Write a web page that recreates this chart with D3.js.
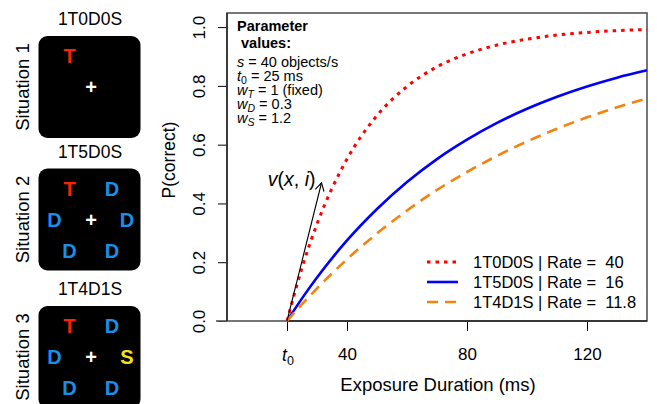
<!DOCTYPE html>
<html>
<head>
<meta charset="utf-8">
<script src="https://cdn.jsdelivr.net/npm/d3@7"></script>
<style>
  body { margin: 0; background: #fff; }
  text { font-family: "Liberation Sans", Arial, sans-serif; white-space: pre; }
</style>
</head>
<body>
<div id="container"></div>
<script>
// left panels
const situations = ['Situation 1', 'Situation 2', 'Situation 3'];
const codes = ['1T0D0S', '1T5D0S', '1T4D1S'];
// each display: letter + slot in the search array
const displays = [
  [{ ch: 'T', slot: 'TL' }, { ch: '+', slot: 'C' }],
  [{ ch: 'T', slot: 'TL' }, { ch: 'D', slot: 'TR' }, { ch: 'D', slot: 'ML' }, { ch: '+', slot: 'C' },
   { ch: 'D', slot: 'MR' }, { ch: 'D', slot: 'BL' }, { ch: 'D', slot: 'BR' }],
  [{ ch: 'T', slot: 'TL' }, { ch: 'D', slot: 'TR' }, { ch: 'D', slot: 'ML' }, { ch: '+', slot: 'C' },
   { ch: 'S', slot: 'MR' }, { ch: 'D', slot: 'BL' }, { ch: 'D', slot: 'BR' }]
];

// curves: P(correct) vs exposure duration (ms)
const durations = [20, 25, 30, 40, 50, 60, 70, 80, 90, 100, 110, 120, 130, 140];
const pRed =    [0, 0.181, 0.330, 0.551, 0.699, 0.798, 0.865, 0.909, 0.939, 0.959, 0.973, 0.982, 0.988, 0.992];
const pBlue =   [0, 0.077, 0.148, 0.274, 0.381, 0.473, 0.551, 0.617, 0.674, 0.722, 0.763, 0.798, 0.828, 0.853];
const pOrange = [0, 0.057, 0.111, 0.210, 0.298, 0.376, 0.446, 0.507, 0.562, 0.611, 0.654, 0.693, 0.727, 0.757];
const legendLabels = ['1T0D0S | Rate =  40', '1T5D0S | Rate =  16', '1T4D1S | Rate =  11.8'];
const xTicks = [20, 40, 80, 120];
const yTicks = [0, 0.2, 0.4, 0.6, 0.8, 1.0];
const arrowPts = [[20, 0], [31.5, 0.47]];
const t0 = 20;

const width = 657, height = 404;
const svg = d3.select('#container').append('svg')
  .attr('width', width).attr('height', height);

// ---- left panels ----
const slotPos = {
  TL: [31, 20], TR: [73.5, 20], ML: [16, 51], C: [52.5, 51],
  MR: [88.5, 51], BL: [31, 82], BR: [73.5, 82]
};
const letterColor = { T: '#ff2200', D: '#1a8fe8', S: '#f2e21a', '+': '#ffffff' };
const panelTop = [36, 168.5, 306];
const panelX = 38.5, panelSize = 102;

situations.forEach((s, i) => {
  const g = svg.append('g');
  g.append('text')
    .attr('x', 90).attr('y', panelTop[i] - 11)
    .attr('text-anchor', 'middle')
    .attr('font-size', 17.5)
    .text(codes[i]);

  g.append('text')
    .attr('transform', `translate(28.5,${panelTop[i] + panelSize / 2}) rotate(-90)`)
    .attr('text-anchor', 'middle')
    .attr('font-size', 18.5)
    .text(s);

  g.append('rect')
    .attr('x', panelX).attr('y', panelTop[i])
    .attr('width', panelSize).attr('height', panelSize)
    .attr('rx', 9).attr('fill', '#000');

  g.selectAll('.ltr')
    .data(displays[i])
    .enter()
    .append('text')
    .attr('x', d => panelX + slotPos[d.slot][0])
    .attr('y', d => panelTop[i] + slotPos[d.slot][1] + 7)
    .attr('text-anchor', 'middle')
    .attr('font-weight', 'bold')
    .attr('font-size', 20)
    .attr('fill', d => letterColor[d.ch])
    .text(d => d.ch);
});

// ---- main plot ----
const x = d3.scaleLinear().domain([0, 140]).range([227, 647]);
const y = d3.scaleLinear().domain([0, 1.048]).range([321, 13]);

// y axis
const yAxis = svg.append('g')
  .attr('transform', `translate(${x(0)},0)`)
  .call(d3.axisLeft(y).tickValues(yTicks).tickSize(9).tickFormat(d3.format('.1f')));
yAxis.select('.domain').remove();
yAxis.selectAll('line').attr('stroke', '#000');
yAxis.selectAll('text')
  .attr('x', null).attr('dy', null)
  .attr('transform', 'translate(-22,0) rotate(-90)')
  .attr('text-anchor', 'middle')
  .attr('font-family', '"Liberation Sans", Arial, sans-serif')
  .attr('font-size', 17)
  .attr('fill', '#000');

// x axis
const xAxis = svg.append('g')
  .attr('transform', `translate(0,${y(0)})`)
  .call(d3.axisBottom(x).tickValues(xTicks).tickSize(10).tickPadding(17)
    .tickFormat(d => (d === t0 ? '' : d)));
xAxis.select('.domain').remove();
xAxis.selectAll('line').attr('stroke', '#000');
xAxis.selectAll('text')
  .attr('font-family', '"Liberation Sans", Arial, sans-serif')
  .attr('font-size', 17)
  .attr('fill', '#000');

// t0 tick label
const t0lab = svg.append('text')
  .attr('x', x(t0) - 5).attr('y', 361)
  .attr('font-size', 17.5);
t0lab.append('tspan').attr('font-style', 'italic').text('t');
t0lab.append('tspan').attr('font-size', 12.5).attr('dy', 4).text('0');

// box
svg.append('rect')
  .attr('x', x(0)).attr('y', y(1.048))
  .attr('width', x(140) - x(0)).attr('height', y(0) - y(1.048))
  .attr('fill', 'none').attr('stroke', '#555').attr('stroke-width', 1.6);
svg.append('line')
  .attr('x1', x(0) - 11).attr('x2', x(0))
  .attr('y1', y(0)).attr('y2', y(0))
  .attr('stroke', '#555').attr('stroke-width', 1.6);
svg.append('line')
  .attr('x1', x(0)).attr('x2', x(0))
  .attr('y1', y(1.048)).attr('y2', y(0))
  .attr('stroke', '#222').attr('stroke-width', 1.4);
svg.append('line')
  .attr('x1', x(t0)).attr('x2', x(140))
  .attr('y1', y(0)).attr('y2', y(0))
  .attr('stroke', '#222').attr('stroke-width', 1.6);

// axis titles
svg.append('text')
  .attr('x', (x(0) + x(140)) / 2 + 1).attr('y', 391)
  .attr('text-anchor', 'middle').attr('font-size', 18.5)
  .text('Exposure Duration (ms)');
svg.append('text')
  .attr('transform', `translate(175,${(y(0) + y(1.048)) / 2 - 7}) rotate(-90)`)
  .attr('text-anchor', 'middle').attr('font-size', 17.5)
  .text('P(correct)');

// parameter text
const params = svg.append('g');
params.append('text').attr('x', 237).attr('y', 31)
  .attr('font-weight', 'bold').attr('font-size', 14.5).text('Parameter');
params.append('text').attr('x', 237).attr('y', 48)
  .attr('font-weight', 'bold').attr('font-size', 14.5).text(' values:');

function paramLine(yy, sym, sub, rest) {
  const t = params.append('text').attr('x', 237).attr('y', yy).attr('font-size', 14.5);
  t.append('tspan').attr('font-style', 'italic').text(sym);
  if (sub) {
    t.append('tspan').attr('font-size', 10.5).attr('dy', 3)
      .attr('font-style', sub === '0' ? 'normal' : 'italic').text(sub);
    t.append('tspan').attr('dy', -3).text(rest);
  } else {
    t.append('tspan').text(rest);
  }
}
paramLine(67, 's', null, ' = 40 objects/s');
paramLine(80.5, 't', '0', ' = 25 ms');
paramLine(95, 'w', 'T', ' = 1 (fixed)');
paramLine(109, 'w', 'D', ' = 0.3');
paramLine(123, 'w', 'S', ' = 1.2');

// curves
const series = [
  { values: pRed, color: '#ff0000', dash: '3.5,5', width: 3 },
  { values: pBlue, color: '#0000ff', dash: null, width: 2.6 },
  { values: pOrange, color: '#f5820d', dash: '11,7', width: 2.6 }
];
const lineGenerator = d3.line()
  .x(d => x(d[0]))
  .y(d => y(d[1]))
  .curve(d3.curveMonotoneX);

svg.selectAll('.curve')
  .data(series)
  .enter()
  .append('path')
  .attr('class', 'curve')
  .attr('fill', 'none')
  .attr('stroke', d => d.color)
  .attr('stroke-width', d => d.width)
  .attr('stroke-dasharray', d => d.dash)
  .attr('d', d => lineGenerator(durations.map((t, i) => [t, d.values[i]])));

// arrow v(x, i)
const ax1 = x(arrowPts[0][0]), ay1 = y(arrowPts[0][1]);
const ax2 = x(arrowPts[1][0]), ay2 = y(arrowPts[1][1]);
const ang = Math.atan2(ay2 - ay1, ax2 - ax1);
const hl = 9, ha = Math.PI / 6;
svg.append('line')
  .attr('x1', ax1).attr('y1', ay1).attr('x2', ax2).attr('y2', ay2)
  .attr('stroke', '#000').attr('stroke-width', 1.1);
svg.append('path')
  .attr('d', `M${ax2 - hl * Math.cos(ang - ha)},${ay2 - hl * Math.sin(ang - ha)}L${ax2},${ay2}L${ax2 - hl * Math.cos(ang + ha)},${ay2 - hl * Math.sin(ang + ha)}`)
  .attr('fill', 'none').attr('stroke', '#000').attr('stroke-width', 1.1);

const vlab = svg.append('text')
  .attr('x', ax2 - 6).attr('y', ay2 + 3)
  .attr('text-anchor', 'end').attr('font-size', 19.5);
vlab.append('tspan').attr('font-style', 'italic').text('v');
vlab.append('tspan').text('(');
vlab.append('tspan').attr('font-style', 'italic').text('x');
vlab.append('tspan').text(', ');
vlab.append('tspan').attr('font-style', 'italic').text('i');
vlab.append('tspan').text(')');

// legend
const legend = svg.append('g');
series.forEach((s, i) => {
  const ly = 262 + i * 20;
  legend.append('line')
    .attr('x1', 427).attr('x2', 458)
    .attr('y1', ly).attr('y2', ly)
    .attr('stroke', s.color)
    .attr('stroke-width', s.width)
    .attr('stroke-dasharray', s.dash);
  legend.append('text')
    .attr('x', 473).attr('y', ly + 6)
    .attr('font-size', 16.5)
    .text(legendLabels[i]);
});
</script>
</body>
</html>
